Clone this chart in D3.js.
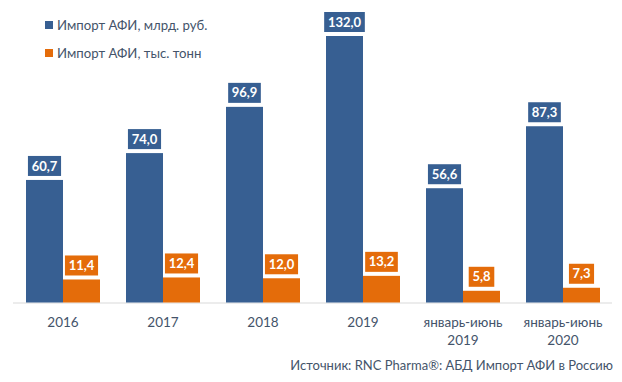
<!DOCTYPE html>
<html>
<head>
    <meta charset="utf-8">
    <script type="text/javascript" src="https://d3js.org/d3.v7.min.js"></script>
    <style>
        body { margin: 0; background: #ffffff; }
        svg { display: block; font-family: Lato, "Open Sans", sans-serif; }
    </style>
</head>
<body>
    <svg></svg>
    <script>
        // Chart data
        const categories = [["2016"], ["2017"], ["2018"], ["2019"], ["январь-июнь", "2019"], ["январь-июнь", "2020"]];
        const rubValues = [60.7, 74.0, 96.9, 132.0, 56.6, 87.3];
        const tonValues = [11.4, 12.4, 12.0, 13.2, 5.8, 7.3];
        const seriesNames = ["Импорт АФИ, млрд. руб.", "Импорт АФИ, тыс. тонн"];
        const sourceText = "Источник: RNC Pharma®: АБД Импорт АФИ в Россию";

        const colors = ["#375f92", "#e46c0a"];
        const textColor = "#44546a";

        const width = 622, height = 382;
        const svg = d3.select("svg").attr("width", width).attr("height", height);

        const x = d3.scaleBand()
            .domain(d3.range(categories.length))
            .range([13, 613])
            .paddingInner(0.26)
            .paddingOuter(0.13);

        const sub = d3.scaleBand()
            .domain([0, 1])
            .range([0, x.bandwidth()]);

        const y = d3.scaleLinear()
            .domain([0, 132])
            .range([302.5, 36]);

        // baseline
        svg.append("line")
            .attr("x1", 13).attr("x2", 612)
            .attr("y1", y(0) + 0.5).attr("y2", y(0) + 0.5)
            .attr("stroke", "#d9d9d9")
            .attr("stroke-width", 1);

        const fmt = v => v.toFixed(1).replace(".", ",");

        [rubValues, tonValues].forEach((vals, s) => {
            const g = svg.append("g");
            g.selectAll("rect")
                .data(vals)
                .enter()
                .append("rect")
                .attr("x", (d, i) => x(i) + sub(s))
                .attr("width", sub.bandwidth())
                .attr("y", d => y(d))
                .attr("height", d => y(0) - y(d))
                .attr("fill", colors[s]);

            // value labels in boxes
            const lab = g.selectAll("g.lab")
                .data(vals)
                .enter()
                .append("g")
                .attr("class", "lab")
                .attr("transform", (d, i) => `translate(${x(i) + sub(s) + sub.bandwidth() / 2},${y(d) - 14})`);

            lab.append("text")
                .attr("text-anchor", "middle")
                .attr("dy", "0.35em")
                .attr("fill", "#ffffff")
                .attr("font-weight", "bold")
                .attr("font-size", 13)
                .text(d => fmt(d));

            lab.insert("rect", "text")
                .each(function () {
                    const bb = this.parentNode.querySelector("text").getBBox();
                    d3.select(this)
                        .attr("x", -bb.width / 2 - 3.5)
                        .attr("width", bb.width + 7)
                        .attr("y", -10)
                        .attr("height", 20)
                        .attr("fill", colors[s]);
                });
        });

        // category labels
        const cat = svg.selectAll("text.cat")
            .data(categories)
            .enter()
            .append("text")
            .attr("class", "cat")
            .attr("text-anchor", "middle")
            .attr("fill", textColor)
            .attr("font-size", 13.5)
            .attr("x", (d, i) => x(i) + x.bandwidth() / 2)
            .attr("y", 327);

        cat.selectAll("tspan")
            .data(d => d)
            .enter()
            .append("tspan")
            .attr("x", function () { return d3.select(this.parentNode).attr("x"); })
            .attr("dy", (d, i) => i === 0 ? 0 : 18)
            .text(d => d);

        // legend
        const leg = svg.selectAll("g.leg")
            .data(seriesNames)
            .enter()
            .append("g")
            .attr("class", "leg")
            .attr("transform", (d, i) => `translate(45,${21 + i * 28})`);

        leg.append("rect")
            .attr("width", 8).attr("height", 8)
            .attr("fill", (d, i) => colors[i]);

        leg.append("text")
            .attr("x", 12)
            .attr("y", 4)
            .attr("dy", "0.35em")
            .attr("fill", textColor)
            .attr("font-size", 13.2)
            .text(d => d);

        // source
        svg.append("text")
            .attr("x", 613)
            .attr("y", 370)
            .attr("text-anchor", "end")
            .attr("fill", textColor)
            .attr("font-size", 13)
            .text(sourceText);
    </script>
</body>
</html>
